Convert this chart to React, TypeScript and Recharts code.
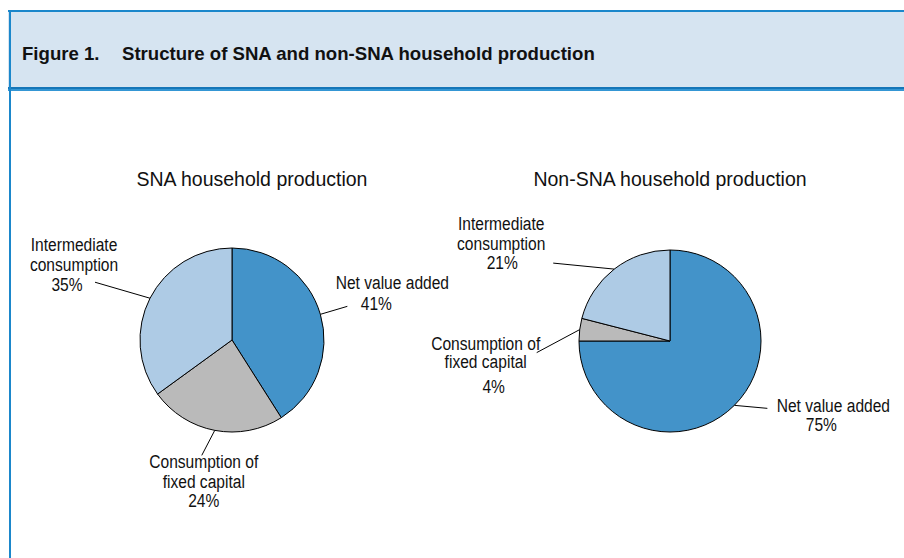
import React from 'react';
import { PieChart, Pie, Cell } from 'recharts';

const categories = ['Net value added', 'Consumption of fixed capital', 'Intermediate consumption'];
const labelLines = [['Net value added'], ['Consumption of', 'fixed capital'], ['Intermediate', 'consumption']];
const snaValues = [41, 24, 35];
const nonSnaValues = [75, 4, 21];
const sliceColors = ['#4393c9', '#bababa', '#aecbe5'];

const snaData = categories.map((name, i) => ({ name, value: snaValues[i] }));
const nonSnaData = categories.map((name, i) => ({ name, value: nonSnaValues[i] }));

// label placement relative to the point where the slice's mid angle meets the rim
type LabelLayout = { end: [number, number]; text: [number, number]; lh: number; pctDx: number; pctGap: number };

const snaLayout: LabelLayout[] = [
  { end: [27, -8], text: [72, -25], lh: 21, pctDx: -16, pctGap: 0 },
  { end: [-13, 25], text: [-11, 38], lh: 19.5, pctDx: 0, pctGap: 0 },
  { end: [-55, -16], text: [-76, -47], lh: 20, pctDx: -7, pctGap: 0 },
];

const nonSnaLayout: LabelLayout[] = [
  { end: [33, 3], text: [99, 7], lh: 19, pctDx: -12, pctGap: 0 },
  { end: [-43, 23], text: [-94, 20], lh: 18.5, pctDx: 8, pctGap: 6 },
  { end: [-61, -6], text: [-113, -39], lh: 19.5, pctDx: 1, pctGap: 0 },
];

const RADIAN = Math.PI / 180;
const labelFont = '"Liberation Sans", Arial, sans-serif';

// narrow-looking label text (the original uses a condensed face)
const NarrowText = ({ x, y, children }: { x: number; y: number; children: React.ReactNode }) => (
  <text
    x={0}
    y={0}
    transform={`translate(${x},${y}) scale(0.82,1)`}
    textAnchor="middle"
    fontSize={19}
    fontFamily={labelFont}
    fill="#111"
  >
    {children}
  </text>
);

const makeLabel = (layout: LabelLayout[]) => (props: any) => {
  const { cx, cy, midAngle, outerRadius, index, value } = props;
  const px = cx + outerRadius * Math.cos(-midAngle * RADIAN);
  const py = cy + outerRadius * Math.sin(-midAngle * RADIAN);
  const l = layout[index];
  const tx = px + l.text[0];
  const ty = py + l.text[1];
  const lines = labelLines[index];
  return (
    <g key={`lbl-${index}`}>
      <line x1={px} y1={py} x2={px + l.end[0]} y2={py + l.end[1]} stroke="#000" strokeWidth={1} />
      {lines.map((t, k) => (
        <NarrowText key={k} x={tx} y={ty + k * l.lh}>
          {t}
        </NarrowText>
      ))}
      <NarrowText x={tx + l.pctDx} y={ty + lines.length * l.lh + l.pctGap}>
        {`${value}%`}
      </NarrowText>
    </g>
  );
};

const titleStyle: React.CSSProperties = {
  position: 'absolute',
  top: 167,
  fontFamily: '"Liberation Sans", Arial, sans-serif',
  fontSize: 19.5,
  color: '#111',
  textAlign: 'center',
  width: 300,
  lineHeight: '24px',
};

const headStyle: React.CSSProperties = {
  position: 'absolute',
  top: 43,
  fontFamily: '"Liberation Sans", Arial, sans-serif',
  fontWeight: 'bold',
  fontSize: 18.6,
  color: '#111',
  whiteSpace: 'nowrap',
  lineHeight: '22px',
};

const App: React.FC = () => {
  return (
    <div style={{ position: 'absolute', left: 0, top: 0, width: 904, height: 558, background: '#fff', overflow: 'hidden' }}>
      {/* header band */}
      <div style={{ position: 'absolute', left: 8, top: 10, width: 900, height: 2, background: '#1b87cb' }} />
      <div style={{ position: 'absolute', left: 8, top: 12, width: 900, height: 75, background: '#d6e4f1' }} />
      <div style={{ position: 'absolute', left: 8, top: 87, width: 900, height: 2, background: '#1576b8' }} />
      <div style={{ position: 'absolute', left: 8, top: 89, width: 900, height: 2, background: '#3496d4' }} />
      <div style={{ position: 'absolute', left: 9, top: 10, width: 2, height: 548, background: '#1b87cb' }} />
      <div style={{ ...headStyle, left: 22 }}>Figure 1.</div>
      <div style={{ ...headStyle, left: 122 }}>Structure of SNA and non-SNA household production</div>

      <div style={{ ...titleStyle, left: 252 - 150 }}>SNA household production</div>
      <div style={{ ...titleStyle, left: 670 - 150 }}>Non-SNA household production</div>

      <div style={{ position: 'absolute', left: 0, top: 0 }}>
        <PieChart width={904} height={558} margin={{ top: 0, right: 0, bottom: 0, left: 0 }}>
          <Pie
            data={snaData}
            dataKey="value"
            nameKey="name"
            cx={232}
            cy={340}
            outerRadius={92}
            startAngle={90}
            endAngle={-270}
            stroke="#000"
            strokeWidth={1}
            isAnimationActive={false}
            labelLine={false}
            label={makeLabel(snaLayout)}
          >
            {snaData.map((d, i) => (
              <Cell key={d.name} fill={sliceColors[i]} />
            ))}
          </Pie>
          <Pie
            data={nonSnaData}
            dataKey="value"
            nameKey="name"
            cx={670}
            cy={341}
            outerRadius={91}
            startAngle={90}
            endAngle={-270}
            stroke="#000"
            strokeWidth={1}
            isAnimationActive={false}
            labelLine={false}
            label={makeLabel(nonSnaLayout)}
          >
            {nonSnaData.map((d, i) => (
              <Cell key={d.name} fill={sliceColors[i]} />
            ))}
          </Pie>
        </PieChart>
      </div>
    </div>
  );
};

export default App;
